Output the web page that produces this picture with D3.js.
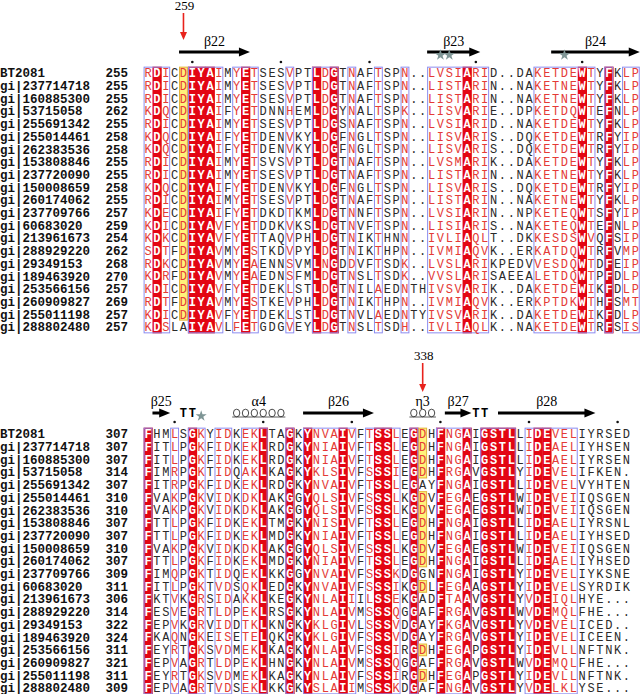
<!DOCTYPE html>
<html>
<head>
<meta charset="utf-8">
<script src="https://cdn.jsdelivr.net/npm/d3@7"></script>
<style>
  body { margin: 0; background: #fff; }
  svg { display: block; }
</style>
</head>
<body>
<svg id="chart" width="640" height="694"></svg>
<script>
// --- sequence names (same for both blocks) ---
const names = [
  "BT2081", "gi|237714718", "gi|160885300", "gi|53715058", "gi|255691342",
  "gi|255014461", "gi|262383536", "gi|153808846", "gi|237720090", "gi|150008659",
  "gi|260174062", "gi|237709766", "gi|60683020", "gi|213961673", "gi|288929220",
  "gi|29349153", "gi|189463920", "gi|253566156", "gi|260909827", "gi|255011198",
  "gi|288802480"
];

// --- first residue number of each row ---
const topStarts = [255, 255, 255, 262, 255, 258, 258, 255, 255, 258, 255, 257, 259, 254, 262, 268, 270, 257, 269, 257, 257];
const bottomStarts = [307, 307, 307, 314, 307, 310, 310, 307, 307, 310, 307, 309, 311, 306, 314, 322, 324, 311, 321, 311, 309];

// --- aligned sequences ---
const topSeqs = [
  "RDICDIYAIMYETSESVPTLDGTNAFTSPN..LVSIARID..DAKETDEWTYFKLP",
  "RDICDIYAIMYETSESVPTLDGTNAFTSPN..LISTARIN..NAKETNEWTYFKLP",
  "RDICDIYAIMYETSESVPTLDGTNAFTSPN..LISTARIN..NAKETNEWTYFKLP",
  "KDQCDIYAIFYETDNNHEMLDGYNALTSPK..LISVARIE..DPKETDQWTEFNLP",
  "RDICDIYAIMYETSESVPTLDGSNAFTSPN..LVSIARID..NAKETDEWTYFKLP",
  "KDQCDIYAIFYETDENVKYLDGFNGLTSPN..LISVARIS..DQKETDEWTRFYIP",
  "KDQCDIYAIFYETDENVKYLDGFNGLTSPN..LISVARIS..DQKETDEWTRFYIP",
  "RDICDIYAIMYETSVSVPTLDGTNAFTSPN..LVSMARIK..DAKETDEWTYFKLP",
  "RDICDIYAIMYETSESVPTLDGTNAFTSPN..LISTARIN..NAKETNEWTYFKLP",
  "KDQCDIYAIFYETDENVKYLDGFNGLTSPN..LISVARIS..DQKETDEWTRFYIP",
  "RDICDIYAIMYETSESVPTLDGTNAFTSPN..LISTARIN..NAKETNEWTYFKLP",
  "KDECDIYAIFYETDKDTKMLDGTNNFTSPN..LVSIARIN..NPKETEQWTSFYIP",
  "KDICDIYAVFYETDDKVKSLDGTNVFTSPN..LISIARIS..NAKETEQWTEFNLP",
  "KDKCDIYAVFYETTAQVPHLDGTNIKTHNN..IVLIAQLT..DKKESDSWVQFSIP",
  "SDTFDIYAVMYESTKDVPYLDGTNIKTHPN..IVMIAQVK..ERKATDQWTRFVMP",
  "RDKCDIYAVMYEAENNSVMLNGDDVFTSDK..LVSLARIKPEDVVESDQWTDFEIP",
  "KDRFDIYAVMYEAEDNSFMLDGTNSLTSDK..VVSLARISAEEALETDQWTPFDLP",
  "KDICDIYAVFYETDEKLSTLDGTNILAEDNTHIVSVARIK..DAKETDEWIKFDLP",
  "RDTFDIYAVMYESTKEVPHLDGTNIKTHPN..IVMIAQVK..ERKPTDKWTHFSMT",
  "KDICDIYAVFYETDEKLSTLDGTNVLAEDNTYIVSVARIK..DAKETDEWIKFDLP",
  "KDSLAIYAVLFETGDGVEYLDGTNSLTSDH..IVLIAQLK..NAKETDEWTRFSIS"
];
const bottomSeqs = [
  "FHMLSGKYIDKEKLTAGKYNVAIVFTSSLEGDHFNGAIGSTLLIDEVELIYRSED",
  "FITLPGKFIDKEKLRDGKYNIAIVFTSSLEGDHFNGAIGSTLLIDEAELIYHSEN",
  "FITLPGKFIDKEKLRDGKYNIAIVFTSSLEGDHFNGAIGSTLLIDEAELIYRSEN",
  "FIMRPGKTIDQAKLKAGKYKLSIVFSSSIEGDHFRGAVGSTLYIDEVELIFKEN.",
  "FITRPGKFIDKEKLRDGKYNVAIVFTSSLEGAYFNGAIGSTLLIDEVELVYHTEN",
  "FVAKPGKVIDKDKLAKGGYQLSIVFSSSLKGDVFEGAEGSTLWIDEVEIIQSGEN",
  "FVAKPGKVIDKDKLAKGGYQLSIVFSSSLKGDVFEGAEGSTLWIDEVEIIQSGEN",
  "FTTLPGKFIDKEKLTMGKYNISIVFTSSLEGDHFNGAIGSTLLIDEAELIYRSNL",
  "FTTLPGKFIDKEKLMDGKYNIAIVFTSSLEGDHFNGAIGSTLLIDEAELIYHSED",
  "FVAKPGKVIDKDKLAKGGYQLSIVFSSSLKGDVFEGAEGSTLWIDEVEIIQSGEN",
  "FTTLPGKFIDKEKLMDGKYNIAIVFTSSLEGDHFNGAIGSTLLIDEAELIYHSED",
  "FIMQPGKTIDQEKLKKGGYNVAIVFSSSKDGGNFNGAIGSTLYIDEVELIYKSNE",
  "FITLPGKTVDSQKLEDGKYNVAIVFSSSIKGDLFEGAAGSTLYIDEVELSYRDIK",
  "FKTVKGRSIDAKKLKEGKYNLAIIILSSEKGADFTAAVGSTLYVDEIQLHYE...",
  "FESVEGRTLDPEKLRSGKYNLAIVMSSSQGGAFFRGAVGSTLWVDEMQLFHE...",
  "FEPVKGRVIDDTKLKNGKYKLGIVLSSSVDGAYFKGAVGSTLYVDEVELICED..",
  "FKAQNGKEISETELQKGKYKLGIVFSSSVDGAYFRGAVGSTLYIDEVELICEEN.",
  "FEYRTGKSVDMEKLKAGKYNLAIVFSSSIRGDHFEGAPGSTLYIDEVLLNFTNK.",
  "FEPVAGRTLDPEKLHNGKYNLAIVMSSSQGGAFFRGAVGSTLWVDEMQLFHE...",
  "FEYRTGKSVDMEKLKAGKYNLAIVFSSSIRGDHFEGAPGSTLYIDEVLLNFTNK.",
  "FEPVAGRTVDSEKLKKGKYSLAIIMSSSKDGAFFNGAVGSTLYVDELKLYSE..."
];

// --- column classes: C strict identity, S similar, N none, Y highlighted D ---
const topClasses    = "SCSNYCCCSNSCSNNNSNNCSCNSNNSNNSNNSSSSCSSNNNNNSSSSSCSNCNSS";
const bottomClasses = "CNNSNCSNSSNSSCNNCNCSSSCSNSCCSNCYNCSSCNCCCCNSCCSSSNNNNNN";

// --- secondary structure (column numbers in the block) ---
const topStructure = [
  { kind: "strand", label: "β22", from: 5,  to: 12 },
  { kind: "strand", label: "β23", from: 33, to: 38 },
  { kind: "strand", label: "β24", from: 47, to: 56 }
];
const bottomStructure = [
  { kind: "strand", label: "β25", from: 2,  to: 3 },
  { kind: "turn",   label: "",    from: 5,  to: 6 },
  { kind: "helix",  label: "α4",  from: 11, to: 16 },
  { kind: "strand", label: "β26", from: 19, to: 26 },
  { kind: "helix",  label: "η3",  from: 31, to: 33 },
  { kind: "strand", label: "β27", from: 35, to: 37 },
  { kind: "turn",   label: "",    from: 38, to: 39 },
  { kind: "strand", label: "β28", from: 41, to: 51 }
];
const topStars = [34, 35, 48];
const bottomStars = [7];

// --- marked residues of BT2081 (red arrows) ---
const markedResidues = [259, 338];

// ---------------------------------------------------------------
const svg = d3.select("#chart");
const RED = "#e30613", RED_TXT = "#e43a36", FRAME = "#8c8cf0", INK = "#2a2a2a";
const colW = 8.86, rowH = 12.7, seqLeft = 143.6;

function drawBlock(b) {
  const nCols = b.seqs[0].length;
  const x = d3.scaleBand().domain(d3.range(1, nCols + 1)).range([seqLeft, seqLeft + nCols * colW]);
  const y = d3.scaleBand().domain(d3.range(names.length)).range([b.rowTop, b.rowTop + names.length * rowH]);
  const bw = x.bandwidth(), bh = y.bandwidth();
  const yTop = y.range()[0], yBot = y.range()[1];
  const cx = c => x(c) + bw / 2;
  const cols = b.classes.split("").map((c, i) => ({ cls: c, col: i + 1 }));
  const g = svg.append("g");

  // names + start numbers
  g.selectAll("text.name").data(names).enter().append("text")
    .attr("x", 0).attr("y", (d, i) => y(i) + bh / 2 + 4.3)
    .attr("font-family", "Liberation Mono, monospace").attr("font-weight", "bold")
    .attr("font-size", 12.5).attr("fill", "#111").text(d => d);
  g.selectAll("text.num").data(b.starts).enter().append("text")
    .attr("x", 128).attr("y", (d, i) => y(i) + bh / 2 + 4.3).attr("text-anchor", "end")
    .attr("font-family", "Liberation Mono, monospace").attr("font-weight", "bold")
    .attr("font-size", 12.5).attr("fill", "#111").text(d => d);

  // red background of identical columns
  g.selectAll("rect.cons").data(cols.filter(d => d.cls === "C")).enter().append("rect")
    .attr("x", d => x(d.col)).attr("y", yTop).attr("width", bw + 0.4).attr("height", yBot - yTop)
    .attr("fill", RED);

  // yellow highlighted D residues (runs of rows)
  cols.filter(d => d.cls === "Y").forEach(d => {
    let runs = [], start = null;
    b.seqs.forEach((s, i) => {
      const isD = s[d.col - 1] === "D";
      if (isD && start === null) start = i;
      if (!isD && start !== null) { runs.push([start, i - 1]); start = null; }
    });
    if (start !== null) runs.push([start, b.seqs.length - 1]);
    g.selectAll(null).data(runs).enter().append("rect")
      .attr("x", x(d.col) + 0.5).attr("y", r => y(r[0]) + 0.5)
      .attr("width", bw - 1).attr("height", r => y(r[1]) + bh - y(r[0]) - 1)
      .attr("fill", "#fff27a").attr("stroke", "#e2b23a").attr("stroke-width", 1);
  });

  // blue frames around runs of identical / similar columns
  let frames = [], fs = null;
  cols.forEach(d => {
    const inRun = d.cls === "C" || d.cls === "S";
    if (inRun && fs === null) fs = d.col;
    if (!inRun && fs !== null) { frames.push([fs, d.col - 1]); fs = null; }
  });
  if (fs !== null) frames.push([fs, nCols]);
  g.selectAll("rect.frame").data(frames).enter().append("rect")
    .attr("x", f => x(f[0]) + 0.5).attr("y", yTop + 0.5)
    .attr("width", f => x(f[1]) + bw - x(f[0]) - 1).attr("height", yBot - yTop - 1)
    .attr("fill", "none").attr("stroke", FRAME).attr("stroke-width", 1);

  // residues
  const cells = [];
  b.seqs.forEach((s, r) => s.split("").forEach((ch, c) => cells.push({ r, col: c + 1, ch, cls: b.classes[c] })));
  g.selectAll("text.res").data(cells).enter().append("text")
    .attr("x", d => cx(d.col)).attr("y", d => y(d.r) + bh / 2 + 4.2)
    .attr("text-anchor", "middle")
    .attr("font-family", "Liberation Mono, monospace").attr("font-size", 12)
    .attr("font-weight", d => d.cls === "C" ? "bold" : "normal")
    .attr("fill", d => d.cls === "C" ? "#fff"
                     : d.cls === "S" ? RED_TXT
                     : d.cls === "Y" && d.ch === "D" ? RED_TXT : INK)
    .text(d => d.ch);

  // ten-residue dots from BT2081 numbering
  let num = b.starts[0] - 1;
  const numAt = {};
  b.seqs[0].split("").forEach((ch, i) => { if (ch !== ".") { num++; numAt[num] = i + 1; } });
  const dotCols = Object.keys(numAt).filter(n => n % 10 === 0).map(n => numAt[n]);
  g.selectAll("circle.dot").data(dotCols).enter().append("circle")
    .attr("cx", c => cx(c)).attr("cy", b.dotY).attr("r", 1.3).attr("fill", "#111");

  // secondary structure
  const ssY = b.ssY;
  b.structure.forEach(s => {
    const x0 = x(s.from), x1 = x(s.to) + bw;
    if (s.kind === "strand") {
      g.append("line").attr("x1", x0).attr("x2", x1 - 10).attr("y1", ssY).attr("y2", ssY)
        .attr("stroke", "#000").attr("stroke-width", 3);
      g.append("path").attr("d", `M${x1 - 11},${ssY - 4.5}L${x1},${ssY}L${x1 - 11},${ssY + 4.5}Z`).attr("fill", "#000");
    } else if (s.kind === "helix") {
      // coil: one loop per residue sitting on a base line
      const n = s.to - s.from + 1, p = (x1 - x0) / n, yb = ssY + 4;
      g.append("line").attr("x1", x0).attr("x2", x1).attr("y1", yb).attr("y2", yb)
        .attr("stroke", "#333").attr("stroke-width", 0.8);
      g.selectAll(null).data(d3.range(n)).enter().append("ellipse")
        .attr("cx", i => x0 + (i + 0.5) * p).attr("cy", ssY)
        .attr("rx", p * 0.36).attr("ry", 3.8)
        .attr("fill", "none").attr("stroke", "#333").attr("stroke-width", 0.9);
    } else if (s.kind === "turn") {
      g.selectAll(null).data(d3.range(s.from, s.to + 1)).enter().append("text")
        .attr("x", c => cx(c)).attr("y", ssY + 4).attr("text-anchor", "middle")
        .attr("font-family", "Liberation Mono, monospace").attr("font-weight", "bold")
        .attr("font-size", 12).attr("fill", "#000").text("T");
    }
    if (s.label) {
      g.append("text").attr("x", (x0 + x1) / 2).attr("y", b.labelY).attr("text-anchor", "middle")
        .attr("font-family", "Liberation Serif, serif").attr("font-size", 14).attr("fill", "#000")
        .text(s.label);
    }
  });

  // stars
  g.selectAll("path.star").data(b.stars).enter().append("path")
    .attr("d", d3.symbol().type(d3.symbolStar).size(38))
    .attr("transform", c => `translate(${cx(c)},${ssY + 3})`).attr("fill", "#7e9595");

  // red arrows at marked residues
  markedResidues.filter(m => numAt[m]).forEach(m => {
    const xc = cx(numAt[m]);
    g.append("text").attr("x", xc + 1).attr("y", b.markY).attr("text-anchor", "middle")
      .attr("font-family", "Liberation Serif, serif").attr("font-size", 13).attr("fill", "#000").text(m);
    g.append("line").attr("x1", xc).attr("x2", xc).attr("y1", b.markY + 3).attr("y2", b.arrowTip - 7)
      .attr("stroke", "#e8221c").attr("stroke-width", 1.6);
    g.append("path").attr("d", `M${xc - 3.5},${b.arrowTip - 8}L${xc},${b.arrowTip}L${xc + 3.5},${b.arrowTip - 8}Z`)
      .attr("fill", "#e8221c");
  });
}

drawBlock({ seqs: topSeqs, starts: topStarts, classes: topClasses, structure: topStructure, stars: topStars,
            rowTop: 66.65, dotY: 62, ssY: 52, labelY: 46, markY: 10, arrowTip: 40 });
drawBlock({ seqs: bottomSeqs, starts: bottomStarts, classes: bottomClasses, structure: bottomStructure, stars: bottomStars,
            rowTop: 427.65, dotY: 422, ssY: 413, labelY: 406, markY: 360, arrowTip: 392 });
</script>
</body>
</html>
